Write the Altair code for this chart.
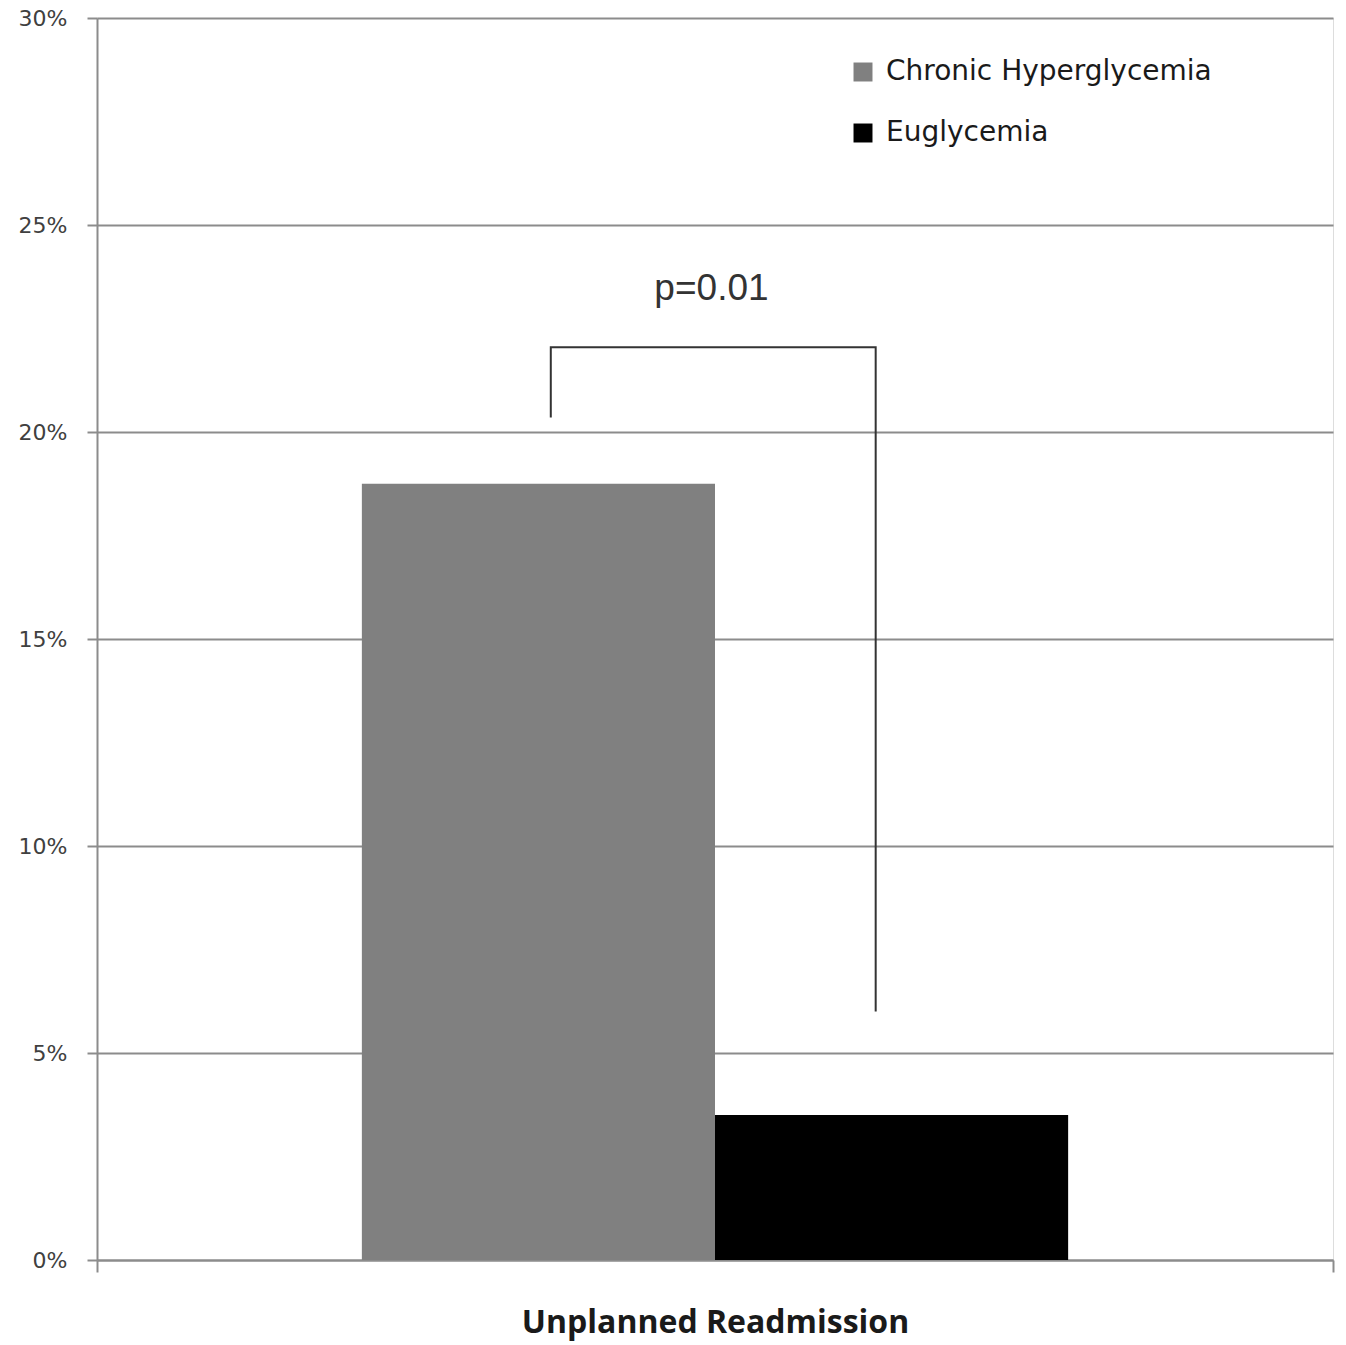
import altair as alt
import pandas as pd

# Data
groups = ["Chronic Hyperglycemia", "Euglycemia"]
group_index = [0, 1]
rates = [18.75, 3.5]          # percent
category = "Unplanned Readmission"

# significance bracket (annotation) in data units
bracket_x = [-0.465, -0.465, 0.455, 0.455]
bracket_y = [20.35, 22.05, 22.05, 6.0]
bracket_order = [0, 1, 2, 3]
p_label = "p=0.01"
p_x = [-0.01]
p_y = [23.0]

y_ticks = [0, 5, 10, 15, 20, 25, 30]
x_domain = [-1.75, 1.75]

bars_df = pd.DataFrame({"group": groups, "idx": group_index, "rate": rates})
bracket_df = pd.DataFrame({"x": bracket_x, "y": bracket_y, "o": bracket_order})
text_df = pd.DataFrame({"x": p_x, "y": p_y, "t": [p_label]})

x_scale = alt.Scale(domain=x_domain, nice=False, zero=False, padding=0)
y_scale = alt.Scale(domain=[0, 30], nice=False, padding=0)

x_axis = alt.Axis(values=x_domain, labels=False, tickSize=12, tickColor="#8c8c8c",
                  tickWidth=2, domainColor="#8c8c8c", domainWidth=2, grid=False,
                  title=category, titleFont="Open Sans", titleFontWeight="bold",
                  titleFontSize=32, titleColor="#1a1a1a", titlePadding=34)
y_axis = alt.Axis(values=y_ticks, labelExpr="datum.value + '%'", title=None,
                  tickSize=10, tickColor="#8c8c8c", tickWidth=2,
                  domainColor="#8c8c8c", domainWidth=2,
                  grid=True, gridColor="#8c8c8c", gridWidth=2,
                  labelFont="DejaVu Sans", labelFontSize=22, labelColor="#404040",
                  labelPadding=20)

bars = alt.Chart(bars_df).transform_calculate(
    x0="datum.idx - 1", x1="datum.idx"
).mark_bar(stroke=None).encode(
    x=alt.X("x0:Q", scale=x_scale, axis=x_axis),
    x2="x1:Q",
    y=alt.Y("rate:Q", scale=y_scale, axis=y_axis),
    y2=alt.datum(0),
    color=alt.Color("group:N", sort=groups,
                    scale=alt.Scale(domain=groups, range=["#808080", "#000000"]),
                    legend=alt.Legend(title=None, orient="none", legendX=752, legendY=40,
                                      symbolType="square", symbolSize=360,
                                      symbolStrokeWidth=0, labelFont="DejaVu Sans",
                                      labelFontSize=28, labelColor="#1a1a1a",
                                      labelLimit=0, rowPadding=33, labelOffset=9)),
)

bracket = alt.Chart(bracket_df).mark_line(color="#333333", strokeWidth=2).encode(
    x=alt.X("x:Q", scale=x_scale, axis=x_axis),
    y=alt.Y("y:Q", scale=y_scale, axis=y_axis),
    order="o:Q",
)

ptext = alt.Chart(text_df).mark_text(
    font="Liberation Sans", fontSize=37, color="#333333", baseline="bottom", align="center"
).encode(
    x=alt.X("x:Q", scale=x_scale, axis=x_axis),
    y=alt.Y("y:Q", scale=y_scale, axis=y_axis),
    text="t:N",
)

chart = alt.layer(bars, bracket, ptext).properties(
    width=1236, height=1242,
    autosize=alt.AutoSizeParams(type="none"),
    padding={"left": 97, "top": 18, "right": 13, "bottom": 85},
).configure_view(strokeWidth=0, stroke="transparent").configure_axisX(
    grid=False
).configure(background="white")

chart.save("out.html", embed_options={"renderer": "svg", "actions": False})
